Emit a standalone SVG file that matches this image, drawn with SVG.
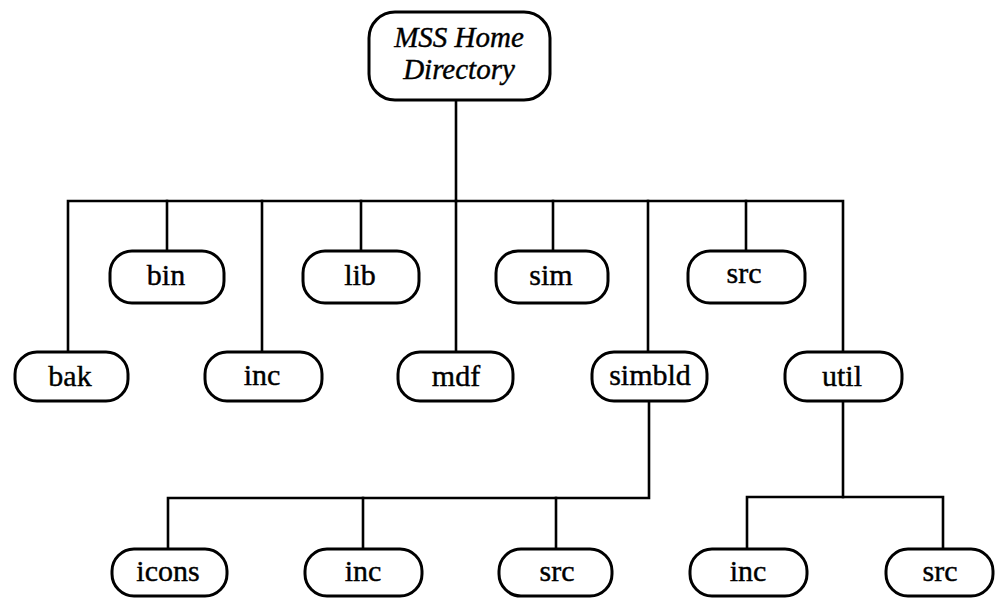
<svg xmlns="http://www.w3.org/2000/svg" width="995" height="598" viewBox="0 0 995 598">
  <style>
    .box { fill: #ffffff; stroke: #000000; stroke-width: 3; }
    .wire { fill: none; stroke: #000000; stroke-width: 2.6; stroke-linecap: square; }
    .lbl { font-family: "Liberation Serif", "Times New Roman", serif; font-size: 30px; text-anchor: middle; fill: #000000; stroke: #000000; stroke-width: 0.4; }
    .root { font-style: italic; font-size: 29px; }
  </style>
  <rect width="995" height="598" fill="#ffffff"/>

  <!-- connectors -->
  <g id="connectors" class="wire">
    <!-- root to first level -->
    <path d="M456 100 V201"/>
    <path d="M68 352 V201 H843 V352"/>
    <path d="M167 201 V251"/>
    <path d="M262 201 V352"/>
    <path d="M361 201 V251"/>
    <path d="M456 201 V352"/>
    <path d="M553 201 V251"/>
    <path d="M648 201 V352"/>
    <path d="M746 201 V251"/>
    <!-- simbld children -->
    <path d="M649 401 V498 H168 V549"/>
    <path d="M363 498 V549"/>
    <path d="M556 498 V549"/>
    <!-- util children -->
    <path d="M843 401 V497"/>
    <path d="M747 549 V497 H943 V549"/>
  </g>

  <!-- root -->
  <g id="root">
    <rect class="box" x="369" y="12" width="181" height="88" rx="26"/>
    <text class="lbl root" x="459" y="47">MSS Home</text>
    <text class="lbl root" x="459" y="79">Directory</text>
  </g>

  <!-- first level, upper row -->
  <g id="bin"><rect class="box" x="110" y="251" width="114" height="52" rx="22"/><text class="lbl" x="166" y="285">bin</text></g>
  <g id="lib"><rect class="box" x="303" y="251" width="116" height="52" rx="22"/><text class="lbl" x="360" y="285">lib</text></g>
  <g id="sim"><rect class="box" x="496" y="251" width="112" height="52" rx="22"/><text class="lbl" x="551" y="285">sim</text></g>
  <g id="src"><rect class="box" x="688" y="251" width="117" height="52" rx="22"/><text class="lbl" x="744" y="283">src</text></g>

  <!-- first level, lower row -->
  <g id="bak"><rect class="box" x="15" y="352" width="113" height="49" rx="22"/><text class="lbl" x="70" y="386">bak</text></g>
  <g id="inc"><rect class="box" x="205" y="352" width="117" height="49" rx="22"/><text class="lbl" x="262" y="385">inc</text></g>
  <g id="mdf"><rect class="box" x="398" y="352" width="115" height="49" rx="22"/><text class="lbl" x="456" y="386">mdf</text></g>
  <g id="simbld"><rect class="box" x="592" y="352" width="115" height="49" rx="22"/><text class="lbl" x="650" y="385">simbld</text></g>
  <g id="util"><rect class="box" x="785" y="352" width="117" height="49" rx="22"/><text class="lbl" x="842" y="386">util</text></g>

  <!-- second level -->
  <g id="simbld-icons"><rect class="box" x="112" y="549" width="115" height="47" rx="22"/><text class="lbl" x="168" y="581">icons</text></g>
  <g id="simbld-inc"><rect class="box" x="305" y="549" width="117" height="47" rx="22"/><text class="lbl" x="363" y="581">inc</text></g>
  <g id="simbld-src"><rect class="box" x="499" y="549" width="113" height="47" rx="22"/><text class="lbl" x="557" y="581">src</text></g>
  <g id="util-inc"><rect class="box" x="690" y="549" width="117" height="47" rx="22"/><text class="lbl" x="748" y="581">inc</text></g>
  <g id="util-src"><rect class="box" x="886" y="549" width="107" height="47" rx="22"/><text class="lbl" x="940" y="581">src</text></g>
</svg>
